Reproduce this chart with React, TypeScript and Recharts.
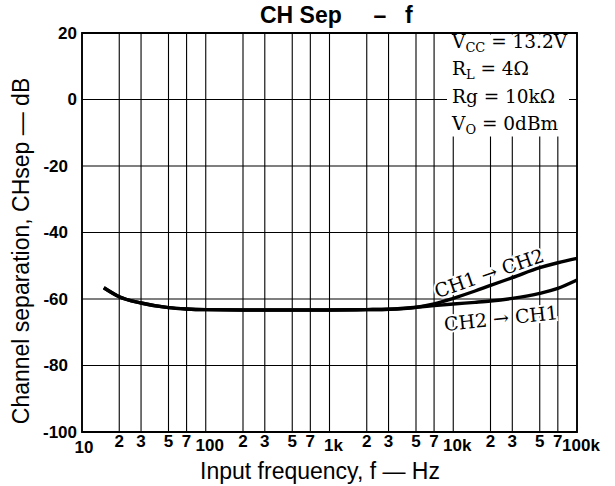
import { LineChart, Line, XAxis, YAxis, CartesianGrid, ReferenceArea } from 'recharts'

const freqs = [15, 20, 30, 50, 70, 100, 200, 500, 1000, 2000, 3000, 5000, 7000, 10000, 15000, 20000, 30000, 50000, 70000, 100000]
const ch1ToCh2 = [-56.6, -59.3, -61.2, -62.6, -63.0, -63.2, -63.3, -63.3, -63.3, -63.2, -63.1, -62.5, -61.5, -59.8, -57.6, -55.9, -53.6, -50.6, -49.1, -47.8]
const ch2ToCh1 = [-56.6, -59.3, -61.2, -62.6, -63.0, -63.2, -63.3, -63.3, -63.3, -63.2, -63.1, -62.5, -62.0, -61.5, -61.0, -60.6, -59.8, -58.3, -56.8, -54.3]

const xTicks = [10, 20, 30, 50, 70, 100, 200, 300, 500, 700, 1000, 2000, 3000, 5000, 7000, 10000, 20000, 30000, 50000, 70000, 100000]
const decadeLabels: Record<number, string> = { 10: '10', 100: '100', 1000: '1k', 10000: '10k', 100000: '100k' }
const yTicks = [-100, -80, -60, -40, -20, 0, 20]

// VCC etc: [main, subscript, rest]
const conditions: [string, string, string][] = [
  ['V', 'CC', ' = 13.2V'],
  ['R', 'L', ' = 4Ω'],
  ['Rg', '', ' = 10kΩ'],
  ['V', 'O', ' = 0dBm'],
]

const data = freqs.map((f, i) => ({ f, ch12: ch1ToCh2[i], ch21: ch2ToCh1[i] }))

const sans = '"Liberation Sans", Arial, Helvetica, sans-serif'
const serif = '"DejaVu Serif", "Liberation Serif", serif'

function FreqTick({ x, y, payload }: any) {
  const v = payload.value
  const isDecade = v in decadeLabels
  const label = isDecade ? decadeLabels[v] : String(v)[0]
  const dx = v === 10 ? 2 : isDecade ? 4 : 0
  const dy = v === 10 ? 15 : isDecade ? 13 : 9
  return (
    <text x={x + dx} y={y + dy} textAnchor="middle" dominantBaseline="central" fontSize={17} fontWeight="bold" fontFamily={sans} fill="#000">
      {label}
    </text>
  )
}

function DbTick({ x, y, payload }: any) {
  const v = payload.value
  const shift = v === 20 || v === 0 || v === -100 ? 0 : -9
  return (
    <text x={x + shift} y={y} textAnchor="end" dominantBaseline="central" fontSize={17} fontWeight="bold" fontFamily={sans} fill="#000">
      {v}
    </text>
  )
}

export default function App() {
  return (
    <div style={{ position: 'absolute', left: 0, top: 0, width: 615, height: 486, background: '#fff' }}>
      <LineChart width={615} height={486} data={data} margin={{ top: 33, right: 38, left: 32, bottom: 24 }}>
        <CartesianGrid stroke="#000" strokeWidth={1.1} />
        <XAxis
          dataKey="f"
          type="number"
          scale="log"
          domain={[10, 100000]}
          ticks={xTicks}
          interval={0}
          height={30}
          tickSize={0}
          tickMargin={0}
          tickLine={false}
          axisLine={false}
          tick={<FreqTick />}
        />
        <YAxis
          type="number"
          domain={[-100, 20]}
          ticks={yTicks}
          interval={0}
          width={50}
          tickSize={0}
          tickMargin={5}
          tickLine={false}
          axisLine={false}
          tick={<DbTick />}
        />
        <ReferenceArea x1={10} x2={100000} y1={-100} y2={20} fill="none" stroke="#000" strokeWidth={1.8} />
        <Line dataKey="ch12" type="monotone" stroke="#000" strokeWidth={3.4} dot={false} isAnimationActive={false} />
        <Line dataKey="ch21" type="monotone" stroke="#000" strokeWidth={3.4} dot={false} isAnimationActive={false} />
      </LineChart>

      <svg width={615} height={486} style={{ position: 'absolute', left: 0, top: 0, pointerEvents: 'none' }}>
        <text x={260} y={23} fontSize={23} fontWeight="bold" fontFamily={sans} fill="#000">CH Sep</text>
        <text x={380} y={23} fontSize={23} fontWeight="bold" fontFamily={sans} textAnchor="middle" fill="#000">–</text>
        <text x={405} y={23} fontSize={23} fontWeight="bold" fontFamily={sans} fill="#000">f</text>

        <text x={29} y={251} transform="rotate(-90 29 251)" textAnchor="middle" fontSize={23} fontFamily={sans} fill="#000">
          Channel separation, CHsep — dB
        </text>
        <text x={320} y={479} textAnchor="middle" fontSize={23} fontFamily={sans} fill="#000">
          Input frequency, f — Hz
        </text>

        <rect x={447} y={34.5} width={122} height={102} fill="#fff" />
        {conditions.map(([main, sub, rest], i) => (
          <text key={i} x={452} y={48 + i * 27.4} fontSize={18.5} fontFamily={serif} fill="#000">
            {main}
            {sub ? <tspan fontSize={13} dy={4}>{sub}</tspan> : null}
            <tspan dy={sub ? -4 : 0}>{rest}</tspan>
          </text>
        ))}

        <text x={489} y={273} transform="rotate(-19 489 273)" textAnchor="middle" dominantBaseline="central" fontSize={19} fontFamily={serif}
          fill="#000" stroke="#fff" strokeWidth={4} paintOrder="stroke">
          CH1 → CH2
        </text>
        <text x={501} y={318} transform="rotate(-6 501 318)" textAnchor="middle" dominantBaseline="central" fontSize={19} fontFamily={serif}
          fill="#000" stroke="#fff" strokeWidth={4} paintOrder="stroke">
          CH2 → CH1
        </text>
      </svg>
    </div>
  )
}
